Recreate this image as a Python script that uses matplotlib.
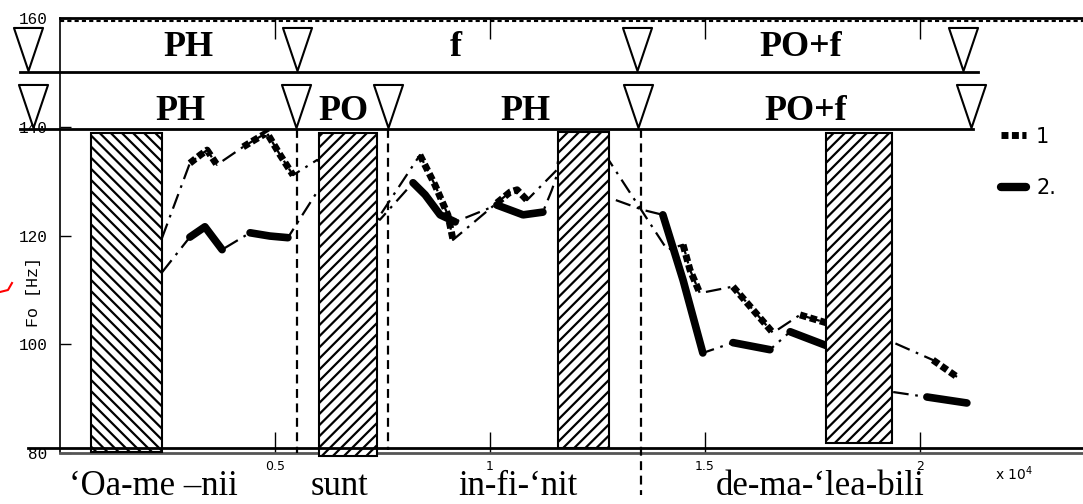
import matplotlib
matplotlib.use('Agg')
import matplotlib.pyplot as plt
from matplotlib.path import Path
from matplotlib.lines import Line2D
from matplotlib.patches import Rectangle

# Contorno 1 (tiempo x10^4, Fo en Hz)
s1_t = [0.237, 0.302, 0.326, 0.342, 0.365, 0.426, 0.453, 0.481, 0.512, 0.542,
        0.598, 0.740, 0.837, 0.872, 0.902, 0.914, 1.016, 1.047, 1.063, 1.086,
        1.156, 1.163, 1.256, 1.412, 1.449, 1.465, 1.488, 1.565, 1.658, 1.721,
        1.784, 1.907, 2.030, 2.086]
s1_f = [119.5, 133.3, 134.8, 135.7, 133.0, 136.3, 137.6, 138.9, 134.8, 131.1,
        133.9, 123.2, 134.8, 129.3, 123.8, 119.2, 126.0, 128.0, 128.4, 126.5,
        132.1, 137.6, 136.3, 117.4, 118.3, 113.7, 109.4, 110.6, 102.1, 105.4,
        103.9, 101.4, 97.1, 94.0]
# tramos sonoros (indices inicio, fin)
s1_tramos = [(1, 4), (5, 9), (12, 15), (16, 19), (24, 26), (27, 28), (29, 30), (32, 33)]

# Contorno 2
s2_t = [0.237, 0.302, 0.337, 0.377, 0.442, 0.488, 0.530, 0.605, 0.744, 0.821,
        0.849, 0.884, 0.919, 1.016, 1.077, 1.123, 1.144, 1.158, 1.272, 1.356,
        1.402, 1.449, 1.495, 1.565, 1.651, 1.698, 1.784, 1.930, 2.016, 2.109]
s2_f = [113.2, 119.7, 121.6, 117.4, 120.5, 119.9, 119.6, 128.9, 122.9, 129.7,
        127.5, 123.8, 122.5, 125.6, 123.8, 124.3, 128.4, 131.7, 127.1, 124.7,
        123.8, 111.8, 98.4, 100.3, 99.0, 102.3, 99.7, 91.3, 90.3, 89.2]
s2_tramos = [(1, 3), (4, 6), (9, 12), (13, 15), (20, 22), (23, 24), (25, 26), (28, 29)]

# Consonantes (rectangulos rayados)
cajas_ini = [0.072, 0.602, 1.158, 1.781]
cajas_fin = [0.237, 0.737, 1.277, 1.935]
cajas_sup = [138.8, 138.8, 139.0, 138.8]
cajas_inf = [80.2, 79.5, 81.0, 81.9]
cajas_rayado = ['\\\\\\', '///', '///', '///']

# Fronteras (triangulos) y etiquetas
fila1_x = [-0.074, 0.551, 1.342, 2.100]
fila2_x = [-0.063, 0.549, 0.763, 1.344, 2.119]
fila1_etiq = ['PH', 'f', 'PO+f']
fila1_pos = [0.298, 0.921, 1.723]
fila2_etiq = ['PH', 'PO', 'PH', 'PO+f']
fila2_pos = [0.281, 0.658, 1.083, 1.735]
lineas_v = [0.551, 0.763, 1.351]
lineas_v_inf = [80.0, 80.5, 72.3]

palabras = ['\u2018Oa-me \u2013nii', 'sunt', 'in-fi-\u2018nit', 'de-ma-\u2018lea-bili']
palabras_x = [0.216, 0.649, 1.065, 1.767]

W, H = 1083, 504
fig = plt.figure(figsize=(W / 100, H / 100), dpi=100)
ax = fig.add_axes([60 / W, 51 / H, 1023 / W, 435 / H])
ax.set_xlim(0, 1023 / 430)
ax.set_ylim(80, 160)
plt.rcParams['hatch.linewidth'] = 1.6

# Contornos: linea punto-raya fina + tramos gruesos
fino = dict(color='black', lw=1.6, ls=(0, (7, 3, 1.2, 3)), zorder=2)
ax.plot(s1_t, s1_f, **fino)
ax.plot(s2_t, s2_f, **fino)
for a, b in s1_tramos:
    ax.plot(s1_t[a:b + 1], s1_f[a:b + 1], color='black', lw=5, ls=(0, (1.0, 0.5)),
            zorder=2.5)
for a, b in s2_tramos:
    ax.plot(s2_t[a:b + 1], s2_f[a:b + 1], color='black', lw=5.5,
            solid_capstyle='round', solid_joinstyle='round', zorder=2.5)

for x0, x1, y1, y0, h in zip(cajas_ini, cajas_fin, cajas_sup, cajas_inf, cajas_rayado):
    ax.add_patch(Rectangle((x0, y0), x1 - x0, y1 - y0, facecolor='white',
                           edgecolor='black', lw=1.5, hatch=h, zorder=3, clip_on=False))

for x, yb in zip(lineas_v, lineas_v_inf):
    ax.plot([x, x], [139.5, yb], color='black', lw=1.6, ls=(0, (4, 2.5)),
            zorder=4, clip_on=False)

# filas de anotacion
ax.plot([-0.093, 2.135], [150, 150], color='black', lw=2, clip_on=False, zorder=5)
ax.plot([-0.093, 2.123], [139.5, 139.5], color='black', lw=2, clip_on=False, zorder=5)
tri = Path([(-1, 1.48), (1, 1.48), (0, -1.48), (-1, 1.48)], closed=True)
ax.plot(fila1_x, [154.35] * len(fila1_x), ls='none', marker=tri, ms=31, mfc='white',
        mec='black', mew=1.5, clip_on=False, zorder=6)
ax.plot(fila2_x, [143.75] * len(fila2_x), ls='none', marker=tri, ms=31, mfc='white',
        mec='black', mew=1.5, clip_on=False, zorder=6)
for s, x in zip(fila1_etiq, fila1_pos):
    ax.text(x, 154.5, s, ha='center', va='center', fontsize=26, fontweight='bold',
            family='Liberation Serif', zorder=7)
for s, x in zip(fila2_etiq, fila2_pos):
    ax.text(x, 142.8, s, ha='center', va='center', fontsize=26, fontweight='bold',
            family='Liberation Serif', zorder=7)

for s, x in zip(palabras, palabras_x):
    ax.text(x, 72.3, s, ha='center', va='baseline', fontsize=25,
            family='Liberation Serif', clip_on=False)

# ejes
ax.spines['right'].set_visible(False)
ax.spines['left'].set_linewidth(1.2)
ax.spines['bottom'].set_color('#555555')
ax.spines['bottom'].set_linewidth(2)
ax.spines['top'].set_linewidth(2)
ax.plot([0, 1023 / 430], [159.45, 159.45], color='black', lw=1.5, ls=(0, (2, 1.5)),
        clip_on=False)
ax.plot([-0.0744, 1023 / 430], [80.9, 80.9], color='black', lw=2, clip_on=False, zorder=4)

ax.set_yticks([80, 100, 120, 140, 160])
ax.set_yticklabels(['80', '100', '120', '140', '160'], family='Liberation Mono', fontsize=11.5)
ax.tick_params(axis='y', direction='in', length=8, width=1, pad=9)
ax.set_xticks([0.5, 1, 1.5, 2])
ax.set_xticklabels(['0.5', '1', '1.5', '2'], family=['Liberation Sans Narrow', 'DejaVu Sans'],
                   fontsize=9)
ax.tick_params(axis='x', direction='in', length=15, width=1, top=True, pad=5)
ax.set_ylabel('Fo [Hz]', family='Liberation Mono', fontsize=12)
ax.yaxis.set_label_coords(-0.019, 0.37)

fig.text(995 / W, 1 - 480 / H, r'x 10$^{4}$', fontsize=10,
         family=['Liberation Sans Narrow', 'DejaVu Sans'])

h1 = Line2D([], [], color='black', lw=5, ls=(0, (1.0, 0.5)))
h2 = Line2D([], [], color='black', lw=6, solid_capstyle='round')
fig.legend([h1, h2], ['1', '2.'], loc='upper left', bbox_to_anchor=(982 / W, 1 - 108 / H),
           frameon=False, handlelength=1.2, handletextpad=0.5, labelspacing=1.5,
           prop={'family': ['Liberation Sans Narrow', 'DejaVu Sans'], 'size': 15})

# trazo rojo del borde
fig.add_artist(Line2D([0, 8 / W, 12 / W], [1 - 292 / H, 1 - 290 / H, 1 - 283 / H],
                      color='red', lw=1.5))

fig.savefig('out.png', dpi=100, facecolor='white')
